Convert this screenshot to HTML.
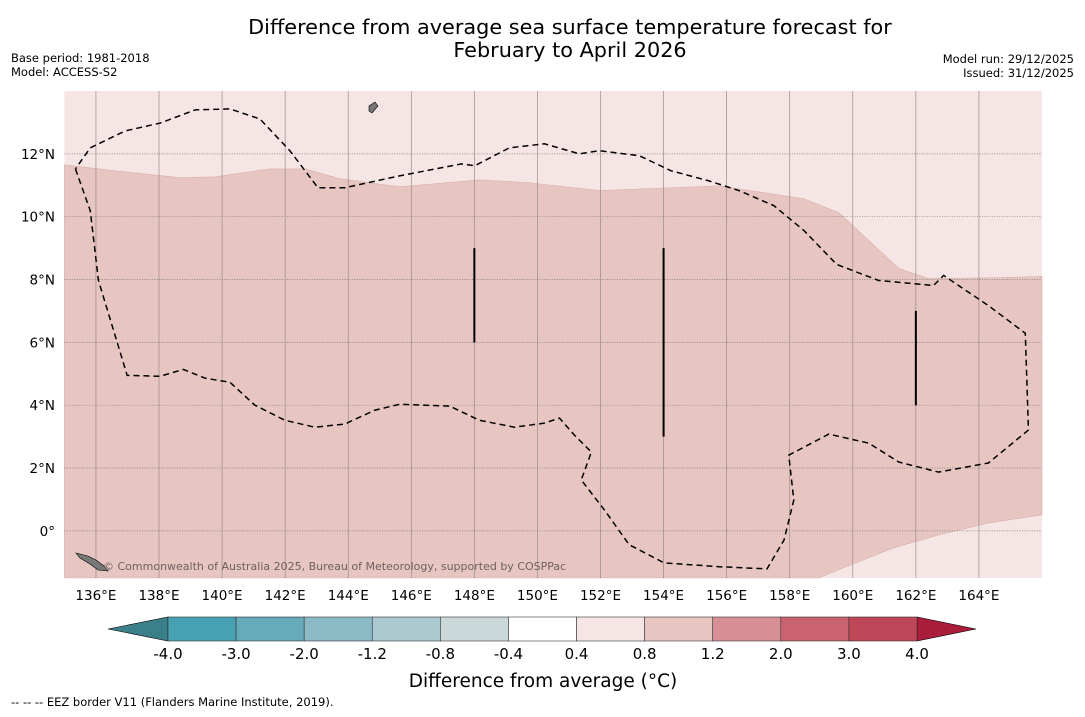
<!DOCTYPE html>
<html><head><meta charset="utf-8">
<style>
body{margin:0;background:#fff;width:1085px;height:713px;overflow:hidden;font-family:"DejaVu Sans","Liberation Sans",sans-serif;}
svg text{font-family:"DejaVu Sans","Liberation Sans",sans-serif;}
</style></head>
<body>
<svg id="chart" width="1085" height="713" xmlns="http://www.w3.org/2000/svg">
<text x="570" y="34" font-size="20.8" text-anchor="middle">Difference from average sea surface temperature forecast for</text>
<text x="570" y="57" font-size="20.8" text-anchor="middle">February to April 2026</text>
<text x="11" y="62" font-size="11.5">Base period: 1981-2018</text>
<text x="11" y="76" font-size="11.5">Model: ACCESS-S2</text>
<text x="1074" y="63" font-size="11.5" text-anchor="end">Model run: 29/12/2025</text>
<text x="1074" y="77" font-size="11.5" text-anchor="end">Issued: 31/12/2025</text>
<g id="map"></g>
<g id="cbar"></g>
<text x="543" y="687" font-size="18.5" text-anchor="middle">Difference from average (°C)</text>
<text x="11" y="706" font-size="11.5">--  --  -- EEZ border V11 (Flanders Marine Institute, 2019).</text>
</svg>
<script>
const lonTicks=[136,138,140,142,144,146,148,150,152,154,156,158,160,162,164];
const latTicks=[0,2,4,6,8,10,12];
const anomTopLon=[135,136.61,138.67,139.78,141.52,142.63,143.73,145.63,148.16,149.75,151.96,155.76,158.45,159.56,160.51,161.46,162.41,164.62,166];
const anomTopLat=[11.65,11.46,11.24,11.27,11.52,11.52,11.21,10.95,11.17,11.08,10.83,10.98,10.57,10.13,9.24,8.35,8.03,8.06,8.1];
const anomBotLon=[166,164.3,162.72,161.3,159.87,158.92];
const anomBotLat=[0.51,0.25,-0.13,-0.54,-1.11,-1.5];
const eezLon=[135.35,135.82,136.08,136.99,138.04,138.77,139.46,140.25,141.04,141.99,142.94,143.89,144.84,145.63,147.22,148.16,149.27,150.22,150.7,151.17,151.71,151.39,152.12,152.91,154.02,155.76,157.28,157.82,158.13,157.97,159.24,160.51,161.46,162.72,164.3,165.57,165.47,164.3,162.88,162.56,160.82,159.49,158.45,157.5,156.39,155.44,154.24,153.23,151.96,151.33,150.22,149.11,148.01,147.59,145.63,143.89,143.04,142.15,141.2,140.25,139.15,138.04,136.93,135.82,135.35];
const eezLat=[11.52,10.19,7.97,4.95,4.92,5.14,4.86,4.73,4.0,3.52,3.3,3.4,3.84,4.03,3.97,3.52,3.3,3.43,3.59,3.05,2.51,1.62,0.67,-0.44,-1.02,-1.14,-1.21,-0.29,0.98,2.41,3.08,2.79,2.19,1.87,2.16,3.21,6.29,7.17,8.13,7.81,7.97,8.48,9.56,10.35,10.83,11.14,11.46,11.94,12.1,12.0,12.32,12.19,11.62,11.68,11.3,10.92,10.92,12.1,13.11,13.43,13.4,12.98,12.73,12.19,11.52];
const segLon=[148,154,162];
const segLat1=[9,9,7];
const segLat2=[6,3,4];
const cbLevels=["-4.0","-3.0","-2.0","-1.2","-0.8","-0.4","0.4","0.8","1.2","2.0","3.0","4.0"];
const cbColors=["#48a1b3","#67abbb","#8bb9c6","#abc9cf","#cbd8da","#ffffff","#f5e6e5","#e7c6c1","#d58f95","#c8636f","#be4657"];
const NS="http://www.w3.org/2000/svg";
const X0=64.4,Y0=91,W=977.6,H=487;
const lonMin=135,lonMax=166,latMin=-1.5,latMax=14;
const xs=l=>X0+(l-lonMin)/(lonMax-lonMin)*W;
const ys=l=>Y0+(latMax-l)/(latMax-latMin)*H;
function mk(tag,attrs,parent){const e=document.createElementNS(NS,tag);for(const k in attrs)e.setAttribute(k,attrs[k]);parent.appendChild(e);return e;}
const map=document.getElementById('map');
let e=mk('rect',{x:X0,y:Y0,width:W,height:H,fill:'#f5e6e5'},map);


let pts=anomTopLon.map((l,i)=>xs(l)+','+ys(anomTopLat[i]));
pts=pts.concat(anomBotLon.map((l,i)=>xs(l)+','+ys(anomBotLat[i])));
pts.push(xs(lonMin)+','+ys(latMin));
e=mk('polygon',{points:pts.join(' '),fill:'#e7c6c1',stroke:'#d9b0ab','stroke-width':0.6},map);


lonTicks.forEach(l=>{
  let g=mk('line',{x1:xs(l),x2:xs(l),y1:Y0,y2:Y0+H,stroke:'#9a8a8a','stroke-width':0.7},map);
  
  
  let t=mk('text',{x:xs(l),y:600,'font-size':13.5,'text-anchor':'middle'},map);t.textContent=l+'°E';
  
  
});
latTicks.forEach(l=>{
  let g=mk('line',{x1:X0,x2:X0+W,y1:ys(l),y2:ys(l),stroke:'#777','stroke-width':0.7,'stroke-dasharray':'1,1.5'},map);
  
  
  let t=mk('text',{x:55,y:ys(l)+5,'font-size':13.5,'text-anchor':'end'},map);t.textContent=l===0?'0°':l+'°N';
  
  
});
e=mk('polyline',{points:eezLon.map((l,i)=>xs(l)+','+ys(eezLat[i])).join(' '),fill:'none',stroke:'#000','stroke-width':1.5,'stroke-dasharray':'6,4'},map);


segLon.forEach((l,i)=>{
  let s=mk('line',{x1:xs(l),x2:xs(l),y1:ys(segLat1[i]),y2:ys(segLat2[i]),stroke:'#000','stroke-width':2},map);
  
  
});
e=mk('path',{d:'M76,553 L88,556 L96,560 L104,566 L108,571 L98,570 L90,564 L80,558Z',fill:'#777',stroke:'#000','stroke-width':0.6},map);


e=mk('path',{d:'M369,106 L375,102 L378,106 L372,113 L369,111Z',fill:'#777',stroke:'#000','stroke-width':0.6},map);


e=mk('text',{x:103,y:570,'font-size':11,fill:'#6e6060'},map);e.textContent='© Commonwealth of Australia 2025, Bureau of Meteorology, supported by COSPPac';


const cb=document.getElementById('cbar');
const cx0=168,cx1=917,cy=617,ch=24,sw=(cx1-cx0)/cbColors.length;
e=mk('polygon',{points:`108,${cy+ch/2} ${cx0},${cy} ${cx0},${cy+ch}`,fill:'#3a7f8a',stroke:'#000','stroke-width':0.6},cb);


e=mk('polygon',{points:`976,${cy+ch/2} ${cx1},${cy} ${cx1},${cy+ch}`,fill:'#a91d3a',stroke:'#000','stroke-width':0.6},cb);


cbColors.forEach((c,i)=>{
  let r=mk('rect',{x:cx0+i*sw,y:cy,width:sw,height:ch,fill:c,stroke:'#333','stroke-width':0.6},cb);
  
  
});
cbLevels.forEach((v,i)=>{
  let t=mk('text',{x:cx0+i*sw,y:659,'font-size':15,'text-anchor':'middle'},cb);t.textContent=v;
  
  
});
</script>
</body></html>
